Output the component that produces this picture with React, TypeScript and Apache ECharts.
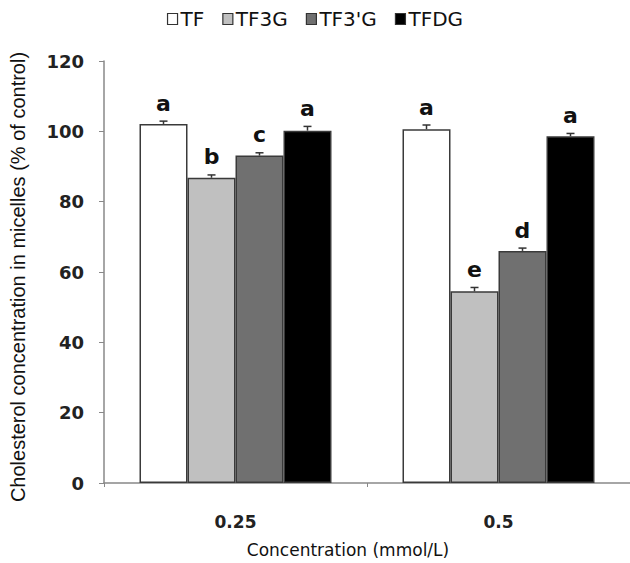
import React, { useEffect, useRef } from "react";
import * as echarts from "echarts";

const categories = ["0.25", "0.5"];
const seriesNames = ["TF", "TF3G", "TF3'G", "TFDG"];
const tfValues = [102.1, 100.6];
const tf3gValues = [86.8, 54.5];
const tf3pgValues = [93.1, 66.0];
const tfdgValues = [100.2, 98.6];
const tfErrors = [0.8, 1.2];
const tf3gErrors = [0.8, 1.1];
const tf3pgErrors = [0.8, 0.8];
const tfdgErrors = [1.2, 0.8];
const tfLetters = ["a", "a"];
const tf3gLetters = ["b", "e"];
const tf3pgLetters = ["c", "d"];
const tfdgLetters = ["a", "a"];
const yTicks = [0, 20, 40, 60, 80, 100, 120];

const colors = ["#ffffff", "#c0c0c0", "#707070", "#000000"];
const CAT_GAP = 0.27;
const WIDE = "'DejaVu Sans', Verdana, sans-serif";
const ARIAL = "'Liberation Sans', Arial, sans-serif";

export default function App() {
  const ref = useRef<HTMLDivElement>(null);
  useEffect(() => {
    if (!ref.current) return;
    const chart = echarts.init(ref.current, undefined, { renderer: "svg" });
    const values = [tfValues, tf3gValues, tf3pgValues, tfdgValues];
    const errors = [tfErrors, tf3gErrors, tf3pgErrors, tfdgErrors];
    const letters = [tfLetters, tf3gLetters, tf3pgLetters, tfdgLetters];

    const barSeries = seriesNames.map((name, i) => ({
      name,
      type: "bar",
      data: values[i],
      barGap: "0%",
      barCategoryGap: CAT_GAP * 100 + "%",
      itemStyle: { color: colors[i], borderColor: "#3a3a3a", borderWidth: 1.5 },
      z: 2,
    }));

    const errData: number[][] = [];
    seriesNames.forEach((_, si) => {
      categories.forEach((_, ci) => {
        errData.push([ci, values[si][ci], errors[si][ci], si]);
      });
    });

    const errorSeries = {
      type: "custom",
      name: "err",
      data: errData,
      z: 5,
      renderItem: (params: any, api: any) => {
        const ci = api.value(0);
        const v = api.value(1);
        const e = api.value(2);
        const si = api.value(3);
        const catW = api.size([1, 0])[0];
        const bw = (catW * (1 - CAT_GAP)) / 4;
        const center = api.coord([ci, v]);
        const x = center[0] - 2 * bw + bw * (si + 0.5);
        const top = api.coord([ci, v + e])[1];
        const base = center[1];
        const letter = letters[si][ci];
        return {
          type: "group",
          children: [
            { type: "line", shape: { x1: x, y1: base, x2: x, y2: top }, style: { stroke: "#333", lineWidth: 1.5 } },
            { type: "line", shape: { x1: x - 4, y1: top, x2: x + 4, y2: top }, style: { stroke: "#333", lineWidth: 1.5 } },
            {
              type: "text",
              style: {
                text: letter,
                x: x,
                y: top - 7,
                align: "center",
                verticalAlign: "bottom",
                font: "bold 22px " + WIDE,
                fill: "#111",
              },
            },
          ],
        };
      },
    };

    chart.setOption({
      animation: false,
      backgroundColor: "#ffffff",
      legend: {
        data: seriesNames,
        top: 4,
        left: "center",
        icon: "rect",
        itemWidth: 10,
        itemHeight: 11,
        itemGap: 18,
        itemStyle: { borderColor: "#333", borderWidth: 1.2 },
        textStyle: { fontFamily: WIDE, fontSize: 20, color: "#111", padding: [0, 0, 0, -2] },
      },
      grid: { left: 104, right: 0, top: 61, bottom: 75, containLabel: false },
      xAxis: {
        type: "category",
        data: categories,
        name: "Concentration (mmol/L)",
        nameLocation: "middle",
        nameGap: 58,
        nameTextStyle: { fontFamily: WIDE, fontSize: 17, color: "#111", padding: [0, 38, 0, 0] },
        axisLine: { lineStyle: { color: "#888", width: 1.5 } },
        axisTick: { show: true, length: 4, lineStyle: { color: "#888" } },
        axisLabel: { margin: 30, fontFamily: WIDE, fontSize: 17, fontWeight: "bold", color: "#222" },
      },
      yAxis: {
        type: "value",
        min: yTicks[0],
        max: yTicks[yTicks.length - 1],
        interval: 20,
        name: "Cholesterol concentration in micelles (% of control)",
        nameLocation: "middle",
        nameGap: 76,
        nameTextStyle: { fontFamily: ARIAL, fontSize: 20, color: "#111", padding: [0, 10, 0, 0] },
        axisLine: { show: true, lineStyle: { color: "#888", width: 1.5 } },
        axisTick: { show: true, length: 5, lineStyle: { color: "#888" } },
        splitLine: { show: false },
        axisLabel: { margin: 20, fontFamily: WIDE, fontSize: 18, fontWeight: "bold", color: "#222" },
      },
      series: [...barSeries, errorSeries],
    });
    return () => chart.dispose();
  }, []);
  return <div ref={ref} style={{ width: 630, height: 563, position: "absolute", left: 0, top: 0 }} />;
}
